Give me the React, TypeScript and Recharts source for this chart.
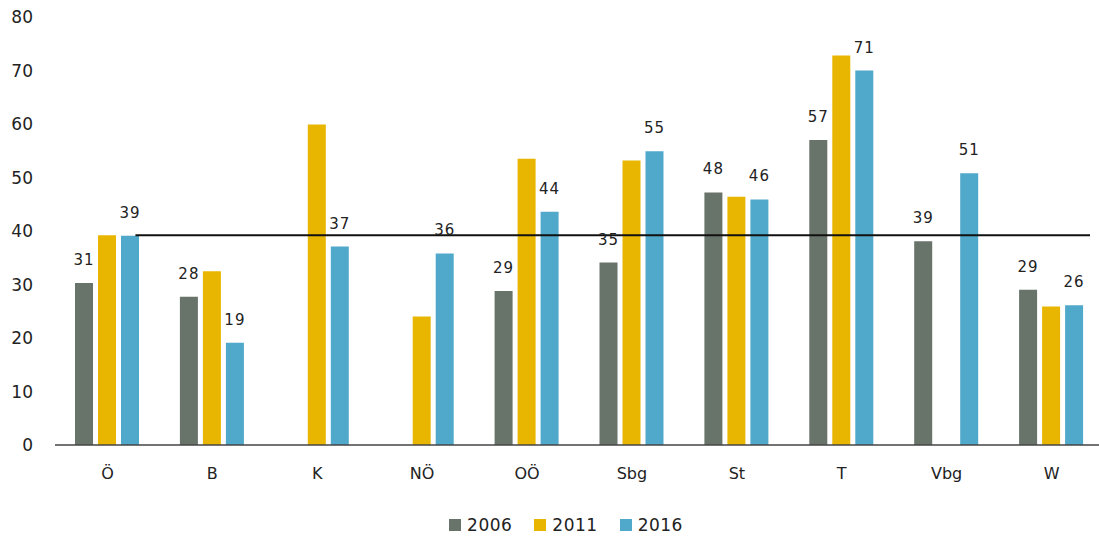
import React from 'react';
import { BarChart, Bar, XAxis, YAxis, Legend, ReferenceLine, LabelList } from 'recharts';

const categories = ['Ö', 'B', 'K', 'NÖ', 'OÖ', 'Sbg', 'St', 'T', 'Vbg', 'W'];
const values2006 = [30.3, 27.7, null, null, 28.8, 34.1, 47.2, 57.0, 38.1, 29.0];
const values2011 = [39.2, 32.5, 59.9, 24.0, 53.5, 53.2, 46.4, 72.8, null, 25.9];
const values2016 = [39.1, 19.1, 37.1, 35.8, 43.6, 54.9, 45.9, 70.0, 50.8, 26.1];
const labels2006 = ['31', '28', null, null, '29', '35', '48', '57', '39', '29'];
const labels2016 = ['39', '19', '37', '36', '44', '55', '46', '71', '51', '26'];
const yTicks = [0, 10, 20, 30, 40, 50, 60, 70, 80];
const averageValue = 39.2;
const averageFrom = 0.69;
const averageTo = 8.88;

const data = categories.map((c, i) => ({
  name: c,
  y2006: values2006[i],
  y2011: values2011[i],
  y2016: values2016[i],
  l2006: labels2006[i],
  l2016: labels2016[i],
}));

const COLORS = { y2006: '#68736a', y2011: '#e8b600', y2016: '#50a8cb' };
const FONT = '"DejaVu Sans", sans-serif';

const LegendContent = () => {
  const items = [
    { label: '2006', color: COLORS.y2006 },
    { label: '2011', color: COLORS.y2011 },
    { label: '2016', color: COLORS.y2016 },
  ];
  return (
    <div style={{ display: 'flex', justifyContent: 'center', fontFamily: FONT, fontSize: 17, color: '#222', height: 26, alignItems: 'center', paddingLeft: 50 }}>
      {items.map((it) => (
        <div key={it.label} style={{ display: 'flex', alignItems: 'center', marginRight: 22 }}>
          <div style={{ width: 12, height: 12, background: it.color, marginRight: 6 }} />
          <span style={{ letterSpacing: 0.5 }}>{it.label}</span>
        </div>
      ))}
    </div>
  );
};

export default function App() {
  return (
    <div style={{ position: 'absolute', left: 0, top: 0, width: 1099, height: 538, overflow: 'hidden', background: '#fff' }}>
      <BarChart
        width={1105}
        height={538}
        data={data}
        margin={{ top: 17, right: 1, bottom: 0, left: 0 }}
        barSize={18}
        barGap={5}
      >
        <XAxis
          dataKey="name"
          axisLine={{ stroke: '#444', strokeWidth: 1.5 }}
          tickLine={false}
          tickSize={0}
          tickMargin={23}
          height={67}
          tick={{ fontFamily: FONT, fontSize: 16, fill: '#222' }}
          interval={0}
        />
        <XAxis xAxisId="line" type="number" domain={[0, 9]} hide allowDataOverflow padding={{ left: 0, right: 0 }} />
        <YAxis
          domain={[0, 80]}
          ticks={yTicks}
          width={55}
          axisLine={false}
          tickLine={false}
          tickSize={0}
          tickMargin={22}
          tick={{ fontFamily: FONT, fontSize: 17, fill: '#222' }}
          interval={0}
        />
        <Bar dataKey="y2006" name="2006" fill={COLORS.y2006} isAnimationActive={false}>
          <LabelList dataKey="l2006" position="top" offset={18} style={{ fontFamily: FONT, fontSize: 15, fill: '#222', letterSpacing: 1 }} />
        </Bar>
        <Bar dataKey="y2011" name="2011" fill={COLORS.y2011} isAnimationActive={false} />
        <Bar dataKey="y2016" name="2016" fill={COLORS.y2016} isAnimationActive={false}>
          <LabelList dataKey="l2016" position="top" offset={18} style={{ fontFamily: FONT, fontSize: 15, fill: '#222', letterSpacing: 1 }} />
        </Bar>
        <ReferenceLine
          xAxisId="line"
          segment={[{ x: averageFrom, y: averageValue }, { x: averageTo, y: averageValue }]}
          stroke="#111"
          strokeWidth={2}
          ifOverflow="visible"
        />
        <Legend verticalAlign="bottom" content={<LegendContent />} />
      </BarChart>
    </div>
  );
}
